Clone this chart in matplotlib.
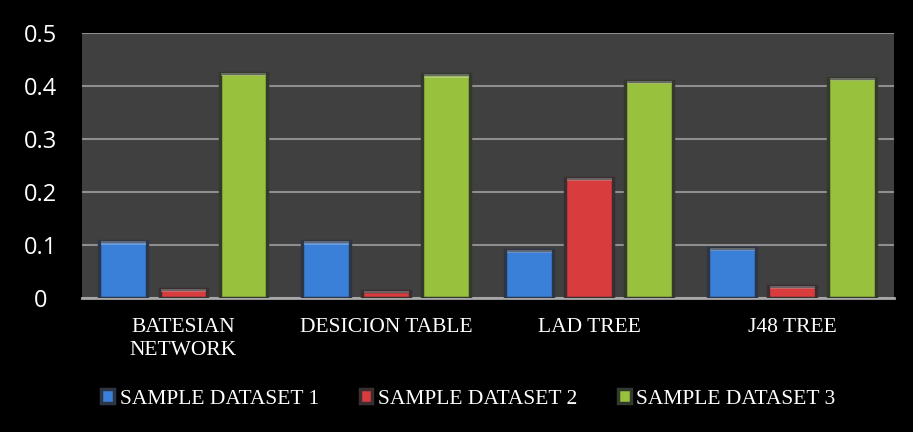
import numpy as np
from matplotlib import pyplot as plt

# classifier error values per sample dataset
classifiers = ['BATESIAN\nNETWORK', 'DESICION TABLE', 'LAD TREE', 'J48 TREE']
dataset_1 = [0.107, 0.107, 0.091, 0.094]
dataset_2 = [0.017, 0.013, 0.227, 0.023]
dataset_3 = [0.425, 0.422, 0.410, 0.415]
series_names = ['SAMPLE DATASET 1', 'SAMPLE DATASET 2', 'SAMPLE DATASET 3']
y_ticks = [0, 0.1, 0.2, 0.3, 0.4, 0.5]
y_tick_labels = ['0', '0.1', '0.2', '0.3', '0.4', '0.5']

colors = ['#3a80d8', '#d83c3c', '#98c23e']
edge_colors = ['#2c3646', '#3a2e30', '#33392c']


def display():
    fig = plt.figure(figsize=(9.13, 4.32), dpi=100, facecolor='black')
    ax = fig.add_axes([0.0898, 0.310, 0.889, 0.6136])
    ax.set_facecolor('#404040')

    x = np.arange(len(classifiers))
    width = 0.236
    step = 0.296
    handles = []
    for i, values in enumerate([dataset_1, dataset_2, dataset_3]):
        bars = ax.bar(x + (i - 1) * step, values, width,
                      color=colors[i], edgecolor=edge_colors[i],
                      linewidth=2.5, zorder=3, label=series_names[i])
        # lighter cap along the top of each bar
        for b in bars:
            h = b.get_height()
            ax.bar(b.get_x() + b.get_width() / 2, min(0.006, h * 0.3),
                   b.get_width() * 0.94, bottom=h - min(0.006, h * 0.3),
                   color='white', alpha=0.25, linewidth=0, zorder=4)
        handles.append(bars)

    ax.set_xlim(-0.5, len(classifiers) - 0.5)
    ax.set_ylim(0, 0.5)
    ax.set_yticks(y_ticks)
    ax.set_yticklabels(y_tick_labels, color='white', fontsize=17,
                       family='Open Sans')
    ax.set_xticks(x)
    ax.set_xticklabels(classifiers, color='white', fontsize=15.5,
                       family='Liberation Serif', linespacing=1.35)
    ax.tick_params(axis='both', length=0)
    ax.tick_params(axis='y', pad=30)
    ax.tick_params(axis='x', pad=14)
    for lbl in ax.get_yticklabels():
        lbl.set_horizontalalignment('center')

    ax.grid(axis='y', color='#8e8e8e', linewidth=1.5, zorder=1)
    for side in ['left', 'right', 'top']:
        ax.spines[side].set_visible(False)
    ax.spines['bottom'].set_color('#a8a8a8')
    ax.spines['bottom'].set_linewidth(2)

    leg = fig.legend(handles=handles, labels=series_names, ncol=3,
                     loc='center', bbox_to_anchor=(0.513, 0.076),
                     frameon=False, handlelength=0.6, handleheight=0.6,
                     handletextpad=0.25, columnspacing=1.9,
                     prop={'family': 'Liberation Serif', 'size': 15.5})
    for t in leg.get_texts():
        t.set_color('white')

    fig.savefig('out.png', dpi=100, facecolor='black')


if __name__ == "__main__":
    display()
